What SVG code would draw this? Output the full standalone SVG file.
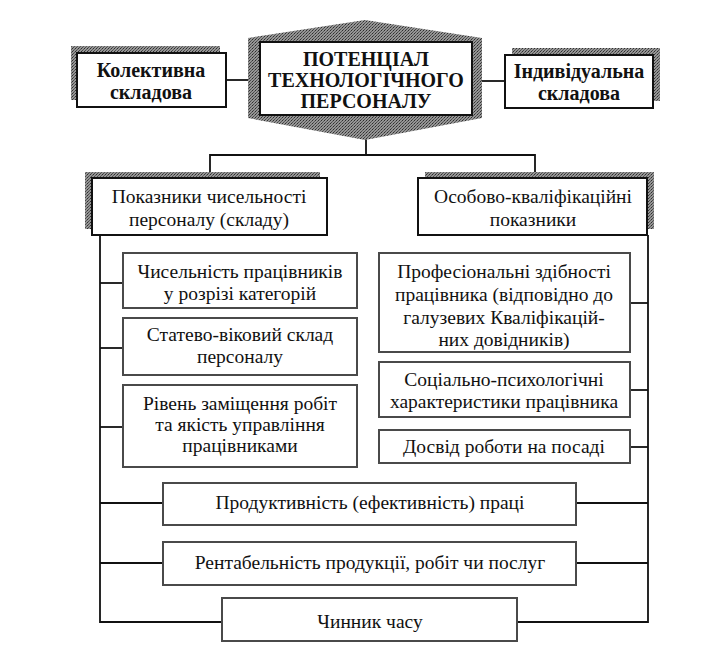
<svg xmlns="http://www.w3.org/2000/svg" width="716" height="649" viewBox="0 0 716 649">
<defs>
<pattern id="dith" width="3" height="3" patternUnits="userSpaceOnUse">
<rect width="3" height="3" fill="#959595"/>
<rect width="1" height="1" fill="#2e2e2e"/>
<rect x="1" y="2" width="1" height="1" fill="#4a4a4a"/>
<rect x="2" y="1" width="1" height="1" fill="#5a5a5a"/>
</pattern>
<style>
.t{font-family:"Liberation Serif","Times New Roman",serif;fill:#111;text-anchor:middle}
.b{font-weight:bold;font-size:20px}
.n{font-size:19.5px}
.box{fill:#fff;stroke:#111;stroke-width:2}
.sbox{fill:#fff;stroke:#4a4a4a;stroke-width:2}
.sh{fill:url(#dith)}
.ln{stroke:#111;stroke-width:1.8;fill:none}
</style>
</defs>
<rect width="716" height="649" fill="#fff"/>

<g id="connectors">
<line class="ln" x1="226" y1="80" x2="248" y2="80"/>
<line class="ln" x1="482" y1="81" x2="505" y2="81"/>
<polyline class="ln" points="366,138 366,155 210,155 210,173"/>
<polyline class="ln" points="366,155 535,155 535,173"/>
<polyline class="ln" points="100,235 100,622 222,622"/>
<polyline class="ln" points="648,235 648,622 517,622"/>
<line class="ln" x1="100" y1="283" x2="123" y2="283"/>
<line class="ln" x1="100" y1="348" x2="123" y2="348"/>
<line class="ln" x1="100" y1="427" x2="123" y2="427"/>
<line class="ln" x1="630" y1="303" x2="648" y2="303"/>
<line class="ln" x1="630" y1="390" x2="648" y2="390"/>
<line class="ln" x1="630" y1="447" x2="648" y2="447"/>
<line class="ln" x1="100" y1="503" x2="163" y2="503"/>
<line class="ln" x1="576" y1="503" x2="648" y2="503"/>
<line class="ln" x1="100" y1="563" x2="163" y2="563"/>
<line class="ln" x1="576" y1="563" x2="648" y2="563"/>
</g>

<g id="collective">
<rect class="sh" x="71" y="46" width="149" height="54"/>
<rect class="box" x="77" y="53" width="149" height="54"/>
<text class="t b" x="151" y="77">Колективна</text>
<text class="t b" x="151" y="99">складова</text>
</g>

<g id="potential">
<polygon class="sh" points="248,38 365,20 482,38 482,118 365,140 248,118"/>
<rect class="box" x="260" y="42" width="212" height="73" stroke-width="2.5"/>
<text class="t b" x="366" y="66">ПОТЕНЦІАЛ</text>
<text class="t b" x="366" y="87">ТЕХНОЛОГІЧНОГО</text>
<text class="t b" x="366" y="108">ПЕРСОНАЛУ</text>
</g>

<g id="individual">
<rect class="sh" x="512" y="48" width="148" height="53"/>
<rect class="box" x="505" y="55" width="148" height="53"/>
<text class="t b" x="579" y="78">Індивідуальна</text>
<text class="t b" x="579" y="100">складова</text>
</g>

<g id="headcount">
<rect class="sh" x="85" y="172" width="235" height="57"/>
<rect class="box" x="92" y="178" width="235" height="57"/>
<text class="t n" x="209" y="203">Показники чисельності</text>
<text class="t n" x="209" y="226">персоналу (складу)</text>
</g>

<g id="qualification">
<rect class="sh" x="425" y="172" width="229" height="57"/>
<rect class="box" x="418" y="178" width="229" height="57"/>
<text class="t n" x="533" y="203">Особово-кваліфікаційні</text>
<text class="t n" x="533" y="226">показники</text>
</g>

<g id="count">
<rect class="sbox" x="123" y="253" width="234" height="55"/>
<text class="t n" x="240" y="278">Чисельність працівників</text>
<text class="t n" x="240" y="300">у розрізі категорій</text>
</g>

<g id="gender">
<rect class="sbox" x="123" y="318" width="234" height="57"/>
<text class="t n" x="240" y="341">Статево-віковий склад</text>
<text class="t n" x="240" y="363">персоналу</text>
</g>

<g id="level">
<rect class="sbox" x="123" y="385" width="234" height="82"/>
<text class="t n" x="240" y="410">Рівень заміщення робіт</text>
<text class="t n" x="240" y="431">та якість управління</text>
<text class="t n" x="240" y="452">працівниками</text>
</g>

<g id="professional">
<rect class="sbox" x="379" y="253" width="251" height="99"/>
<text class="t n" x="504" y="278">Професіональні здібності</text>
<text class="t n" x="504" y="301">працівника (відповідно до</text>
<text class="t n" x="504" y="324">галузевих Кваліфікацій-</text>
<text class="t n" x="504" y="346">них довідників)</text>
</g>

<g id="social">
<rect class="sbox" x="379" y="362" width="251" height="55"/>
<text class="t n" x="504" y="386">Соціально-психологічні</text>
<text class="t n" x="504" y="408">характеристики працівника</text>
</g>

<g id="experience">
<rect class="sbox" x="379" y="430" width="251" height="33"/>
<text class="t n" x="504" y="453">Досвід роботи на посаді</text>
</g>

<g id="productivity">
<rect class="sbox" x="163" y="483" width="413" height="42"/>
<text class="t n" x="370" y="509">Продуктивність (ефективність) праці</text>
</g>

<g id="profitability">
<rect class="sbox" x="163" y="542" width="413" height="43"/>
<text class="t n" x="370" y="569">Рентабельність продукції, робіт чи послуг</text>
</g>

<g id="time">
<rect class="sbox" x="222" y="598" width="295" height="43"/>
<text class="t n" x="370" y="628">Чинник часу</text>
</g>
</svg>
